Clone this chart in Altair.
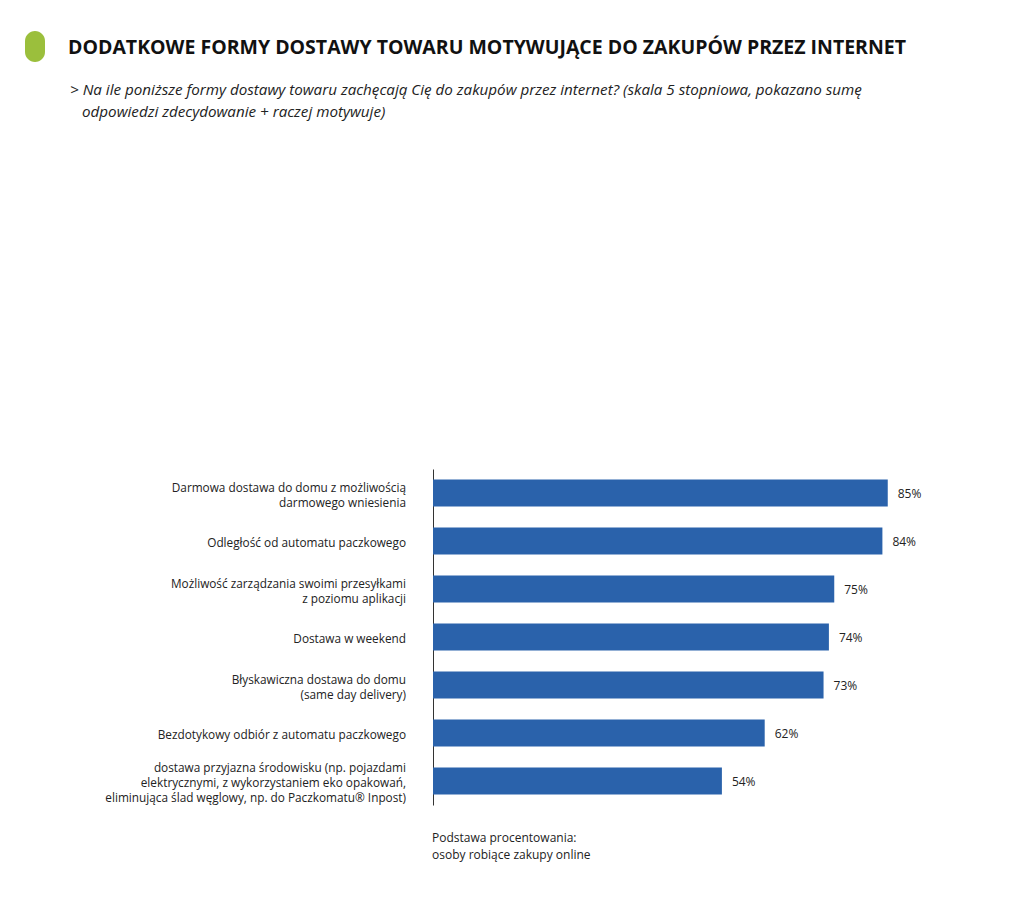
import altair as alt
import pandas as pd

categories = [
    "Darmowa dostawa do domu z możliwością|darmowego wniesienia",
    "Odległość od automatu paczkowego",
    "Możliwość zarządzania swoimi przesyłkami|z poziomu aplikacji",
    "Dostawa w weekend",
    "Błyskawiczna dostawa do domu|(same day delivery)",
    "Bezdotykowy odbiór z automatu paczkowego",
    "dostawa przyjazna środowisku (np. pojazdami |elektrycznymi, z wykorzystaniem eko opakowań,|eliminująca ślad węglowy, np. do Paczkomatu® Inpost)",
]
values = [85, 84, 75, 74, 73, 62, 54]
value_labels = [f"{v}%" for v in values]

title_text = "DODATKOWE FORMY DOSTAWY TOWARU MOTYWUJĄCE DO ZAKUPÓW PRZEZ INTERNET"
subtitle_lines = [
    "> Na ile poniższe formy dostawy towaru zachęcają Cię do zakupów przez internet? (skala 5 stopniowa, pokazano sumę",
    "odpowiedzi zdecydowanie + raczej motywuje)",
]
footnote_lines = ["Podstawa procentowania:", "osoby robiące zakupy online"]

FONT = "Open Sans"
LINE_H = 15
HEIGHT = 336
PAD_IN, PAD_OUT = 0.44, 0.22
step = HEIGHT / (len(categories) - PAD_IN + 2 * PAD_OUT)
half_band = step * (1 - PAD_IN) / 2

df = pd.DataFrame({"cat": categories, "val": values, "lab": value_labels})

# one row per label line, centred on its bar
rows = []
for c in categories:
    parts = c.split("|")
    n = len(parts)
    for i, p in enumerate(parts):
        rows.append({"cat": c, "line": p, "off": half_band + 2 + (i - (n - 1) / 2) * LINE_H})
lab_df = pd.DataFrame(rows)

y_scale = alt.Scale(domain=categories, paddingInner=PAD_IN, paddingOuter=PAD_OUT)
y_enc = alt.Y(
    "cat:N",
    sort=categories,
    title=None,
    scale=y_scale,
    axis=alt.Axis(labels=False, ticks=False, domainColor="#333333", domainWidth=1, grid=False),
)
x_enc = alt.X("val:Q", scale=alt.Scale(domain=[0, 100]), axis=None)

bars = alt.Chart(df).mark_bar(color="#2A62AB").encode(x=x_enc, y=y_enc)
texts = alt.Chart(df).mark_text(
    align="left", baseline="middle", dx=10, dy=1, font=FONT, fontSize=12, color="#222222"
).encode(x=x_enc, y=alt.Y("cat:N", sort=categories, scale=y_scale), text="lab:N")

cat_labels = alt.Chart(lab_df).mark_text(
    align="right", baseline="middle", font=FONT, fontSize=11.8, color="#222222"
).encode(
    x=alt.value(-27),
    y=alt.Y("cat:N", sort=categories, scale=y_scale),
    yOffset=alt.YOffset("off:Q", scale=None),
    text="line:N",
)

one = df.head(1)
pill = alt.Chart(one).mark_rect(color="#9BBF3C", cornerRadius=10).encode(
    x=alt.value(-408), x2=alt.value(-388), y=alt.value(-438), y2=alt.value(-407)
)
title = alt.Chart(one).mark_text(
    align="left", baseline="middle", font=FONT, fontSize=19.5, fontWeight="bold", color="#111111"
).encode(x=alt.value(-365), y=alt.value(-421), text=alt.value(title_text))
sub1 = alt.Chart(one).mark_text(
    align="left", baseline="middle", font=FONT, fontSize=15.2, fontStyle="italic", color="#222222"
).encode(x=alt.value(-363), y=alt.value(-379), text=alt.value(subtitle_lines[0]))
sub2 = alt.Chart(one).mark_text(
    align="left", baseline="middle", font=FONT, fontSize=15.2, fontStyle="italic", color="#222222"
).encode(x=alt.value(-351), y=alt.value(-357), text=alt.value(subtitle_lines[1]))
foot1 = alt.Chart(one).mark_text(
    align="left", baseline="middle", font=FONT, fontSize=12, color="#222222"
).encode(x=alt.value(-1), y=alt.value(369), text=alt.value(footnote_lines[0]))
foot2 = alt.Chart(one).mark_text(
    align="left", baseline="middle", font=FONT, fontSize=12, color="#222222"
).encode(x=alt.value(-1), y=alt.value(386), text=alt.value(footnote_lines[1]))

chart = alt.layer(bars, texts, cat_labels, pill, title, sub1, sub2, foot1, foot2).properties(
    width=535,
    height=HEIGHT,
    autosize=alt.AutoSizeParams(type="none"),
    padding={"left": 433, "top": 469, "right": 56, "bottom": 103},
    background="white",
).configure_view(stroke=None)

chart.save("out.html", embed_options={"renderer": "svg", "actions": False})
